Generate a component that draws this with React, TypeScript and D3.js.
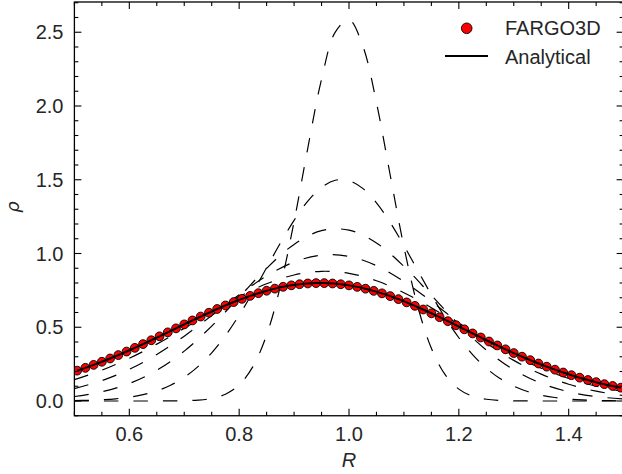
import React from 'react';
import * as d3 from 'd3';

const W = 622;
const H = 474;

// Radial grid (fine, 0.025 step) for the early analytical curves
const R_FINE = [
  0.5, 0.525, 0.55, 0.575, 0.6, 0.625, 0.65, 0.675, 0.7, 0.725, 0.75, 0.775, 0.8, 0.825, 0.85, 0.875,
  0.9, 0.925, 0.95, 0.975, 1.0, 1.025, 1.05, 1.075, 1.1, 1.125, 1.15, 1.175, 1.2, 1.225, 1.25, 1.275,
  1.3, 1.325, 1.35, 1.375, 1.4, 1.425, 1.45, 1.475, 1.5,
];
// Radial grid (coarse, 0.05 step) for the later analytical curves
const R_COARSE = [
  0.5, 0.55, 0.6, 0.65, 0.7, 0.75, 0.8, 0.85, 0.9, 0.95, 1.0, 1.05, 1.1, 1.15, 1.2, 1.25, 1.3, 1.35,
  1.4, 1.45, 1.5,
];

// Analytical (dashed) density profiles at successive times
const RHO_T1 = [
  0, 0, 0, 0, 0, 0, 0.0001, 0.0005, 0.0019, 0.006, 0.0176, 0.0461, 0.109, 0.2327, 0.4478, 0.7771,
  1.2158, 1.715, 2.1811, 2.5008, 2.5849, 2.4086, 2.0233, 1.5321, 1.0458, 0.6435, 0.3569, 0.1785,
  0.0804, 0.0327, 0.012, 0.0039, 0.0012, 0.0003, 0.0001, 0, 0, 0, 0, 0, 0,
];
const RHO_T2 = [
  0.0024, 0.0046, 0.0085, 0.015, 0.0258, 0.0428, 0.0688, 0.1068, 0.1604, 0.2329, 0.3268, 0.4435,
  0.5817, 0.7375, 0.9037, 1.0702, 1.225, 1.3551, 1.4486, 1.4966, 1.4941, 1.4413, 1.3436, 1.2103,
  1.0535, 0.886, 0.72, 0.5653, 0.4289, 0.3143, 0.2226, 0.1523, 0.1007, 0.0643, 0.0397, 0.0237,
  0.0136, 0.0076, 0.0041, 0.0021, 0.0011,
];
const RHO_T3 = [
  0.0303, 0.0622, 0.1183, 0.2081, 0.3382, 0.5078, 0.7037, 0.9, 1.0617, 1.1551, 1.1586, 1.0712,
  0.9128, 0.7168, 0.5186, 0.3456, 0.2122, 0.12, 0.0625, 0.03, 0.0132,
];
const RHO_T4 = [
  0.0844, 0.1382, 0.2146, 0.3157, 0.4395, 0.5788, 0.7205, 0.8478, 0.9423, 0.9891, 0.9803, 0.9172,
  0.81, 0.675, 0.5307, 0.3937, 0.2755, 0.1819, 0.1133, 0.0665, 0.0368,
];
const RHO_T5 = [
  0.1445, 0.2087, 0.2896, 0.3856, 0.4926, 0.6031, 0.7074, 0.7945, 0.8543, 0.8791, 0.8655, 0.8151,
  0.7342, 0.6324, 0.5208, 0.41, 0.3086, 0.222, 0.1526, 0.1003, 0.063,
];

// FARGO3D output (final time) and the matching analytical profile
const R_SIM = [
  0.505, 0.52, 0.535, 0.55, 0.565, 0.58, 0.595, 0.61, 0.625, 0.64, 0.655, 0.67, 0.685, 0.7, 0.715,
  0.73, 0.745, 0.76, 0.775, 0.79, 0.805, 0.82, 0.835, 0.85, 0.865, 0.88, 0.895, 0.91, 0.925, 0.94,
  0.955, 0.97, 0.985, 1.0, 1.015, 1.03, 1.045, 1.06, 1.075, 1.09, 1.105, 1.12, 1.135, 1.15, 1.165,
  1.18, 1.195, 1.21, 1.225, 1.24, 1.255, 1.27, 1.285, 1.3, 1.315, 1.33, 1.345, 1.36, 1.375, 1.39,
  1.405, 1.42, 1.435, 1.45, 1.465, 1.48, 1.495,
];
const RHO_SIM = [
  0.2058, 0.2247, 0.2448, 0.266, 0.2882, 0.3113, 0.3353, 0.3602, 0.3857, 0.4118, 0.4384, 0.4653,
  0.4923, 0.5193, 0.5462, 0.5726, 0.5985, 0.6237, 0.6478, 0.6709, 0.6925, 0.7126, 0.731, 0.7475,
  0.7619, 0.7742, 0.7841, 0.7917, 0.7968, 0.7993, 0.7993, 0.7967, 0.7915, 0.7838, 0.7737, 0.7613,
  0.7466, 0.7299, 0.7112, 0.6907, 0.6686, 0.6451, 0.6204, 0.5947, 0.5682, 0.5411, 0.5136, 0.4859,
  0.4582, 0.4307, 0.4034, 0.3767, 0.3505, 0.3251, 0.3006, 0.2769, 0.2543, 0.2328, 0.2124, 0.1931,
  0.175, 0.1581, 0.1423, 0.1277, 0.1142, 0.1018, 0.0904,
];

const X_TICKS = [0.6, 0.8, 1.0, 1.2, 1.4];
const X_TICK_LABELS = ['0.6', '0.8', '1.0', '1.2', '1.4'];
const Y_TICKS = [0, 0.5, 1.0, 1.5, 2.0, 2.5];
const Y_TICK_LABELS = ['0.0', '0.5', '1.0', '1.5', '2.0', '2.5'];
const LEGEND_LABELS = ['FARGO3D', 'Analytical'];

const FONT = '"Liberation Sans", Arial, sans-serif';
const FS = 20;
const TXT = '#262626';

export default function App() {
  const left = 74.4;
  const right = 623.6;
  const top = 2;
  const bottom = 415.75;
  const x = d3.scaleLinear().domain([0.5, 1.5]).range([left, right]);
  const y = d3.scaleLinear().domain([-0.1, 2.705]).range([bottom, top]);

  const line = d3
    .line<[number, number]>()
    .x((d) => x(d[0]))
    .y((d) => y(d[1]))
    .curve(d3.curveCatmullRom.alpha(0.5));

  const dashed: [number[], number[]][] = [
    [R_FINE, RHO_T1],
    [R_FINE, RHO_T2],
    [R_COARSE, RHO_T3],
    [R_COARSE, RHO_T4],
    [R_COARSE, RHO_T5],
  ];

  const simPts: [number, number][] = R_SIM.map((r, i) => [r, RHO_SIM[i]]);

  const xMinor = d3.range(0.5, 1.5001, 0.05).filter((v) => X_TICKS.every((t) => Math.abs(t - v) > 1e-6));
  const yMinor = d3.range(-0.1, 2.7001, 0.1).filter((v) => Y_TICKS.every((t) => Math.abs(t - v) > 1e-6));

  const MAJ = 7;
  const MIN = 4;
  const tickStroke = { stroke: '#000', strokeWidth: 1.1 };

  return (
    <svg
      width={W}
      height={H}
      style={{ position: 'absolute', left: 0, top: 0, background: '#fff' }}
      fontFamily={FONT}
    >
      <defs>
        <clipPath id="plotclip">
          <rect x={left} y={top} width={right - left} height={bottom - top} />
        </clipPath>
      </defs>
      <rect x={0} y={0} width={W} height={H} fill="#fff" />

      <g clipPath="url(#plotclip)">
        {dashed.map(([rs, vs], k) => (
          <path
            key={k}
            d={line(rs.map((r, i) => [r, vs[i]] as [number, number])) || ''}
            fill="none"
            stroke="#000"
            strokeWidth={1.2}
            strokeDasharray="14.5 15"
          />
        ))}
        {simPts.map((p, i) => (
          <circle key={i} cx={x(p[0])} cy={y(p[1])} r={4.4} fill="#ff0000" stroke="#000" strokeWidth={0.9} />
        ))}
        <path d={line(simPts) || ''} fill="none" stroke="#000" strokeWidth={2} />
      </g>

      {/* ticks */}
      {X_TICKS.map((t) => (
        <g key={'xt' + t}>
          <line x1={x(t)} x2={x(t)} y1={bottom} y2={bottom - MAJ} {...tickStroke} />
          <line x1={x(t)} x2={x(t)} y1={top} y2={top + MAJ} {...tickStroke} />
        </g>
      ))}
      {xMinor.map((t) => (
        <g key={'xm' + t}>
          <line x1={x(t)} x2={x(t)} y1={bottom} y2={bottom - MIN} {...tickStroke} />
          <line x1={x(t)} x2={x(t)} y1={top} y2={top + MIN} {...tickStroke} />
        </g>
      ))}
      {Y_TICKS.map((t) => (
        <g key={'yt' + t}>
          <line x1={left} x2={left + MAJ} y1={y(t)} y2={y(t)} {...tickStroke} />
          <line x1={right} x2={right - MAJ} y1={y(t)} y2={y(t)} {...tickStroke} />
        </g>
      ))}
      {yMinor.map((t) => (
        <g key={'ym' + t}>
          <line x1={left} x2={left + MIN} y1={y(t)} y2={y(t)} {...tickStroke} />
          <line x1={right} x2={right - MIN} y1={y(t)} y2={y(t)} {...tickStroke} />
        </g>
      ))}

      {/* spines */}
      <rect x={left} y={top} width={right - left} height={bottom - top} fill="none" stroke="#000" strokeWidth={1.3} />

      {/* tick labels */}
      {X_TICKS.map((t, i) => (
        <text key={'xl' + t} x={x(t)} y={440.7} textAnchor="middle" fontSize={FS} fill={TXT}>
          {X_TICK_LABELS[i]}
        </text>
      ))}
      {Y_TICKS.map((t, i) => (
        <text key={'yl' + t} x={63.5} y={y(t) + 7.2} textAnchor="end" fontSize={FS} fill={TXT}>
          {Y_TICK_LABELS[i]}
        </text>
      ))}

      {/* axis labels */}
      <text x={349} y={467} textAnchor="middle" fontSize={FS} fontStyle="italic" fill={TXT}>
        R
      </text>
      <text
        transform="translate(19,207) rotate(-90)"
        textAnchor="middle"
        fontSize={18}
        fontStyle="italic"
        fontFamily='"DejaVu Sans", sans-serif'
        fill={TXT}
      >
        ρ
      </text>

      {/* legend */}
      <circle cx={466.7} cy={28.3} r={5.3} fill="#ff0000" stroke="#000" strokeWidth={0.9} />
      <text x={505} y={35} fontSize={FS} fill={TXT}>
        {LEGEND_LABELS[0]}
      </text>
      <line x1={445} x2={488} y1={56} y2={56} stroke="#000" strokeWidth={2} />
      <text x={505} y={63.5} fontSize={FS} fill={TXT}>
        {LEGEND_LABELS[1]}
      </text>
    </svg>
  );
}
